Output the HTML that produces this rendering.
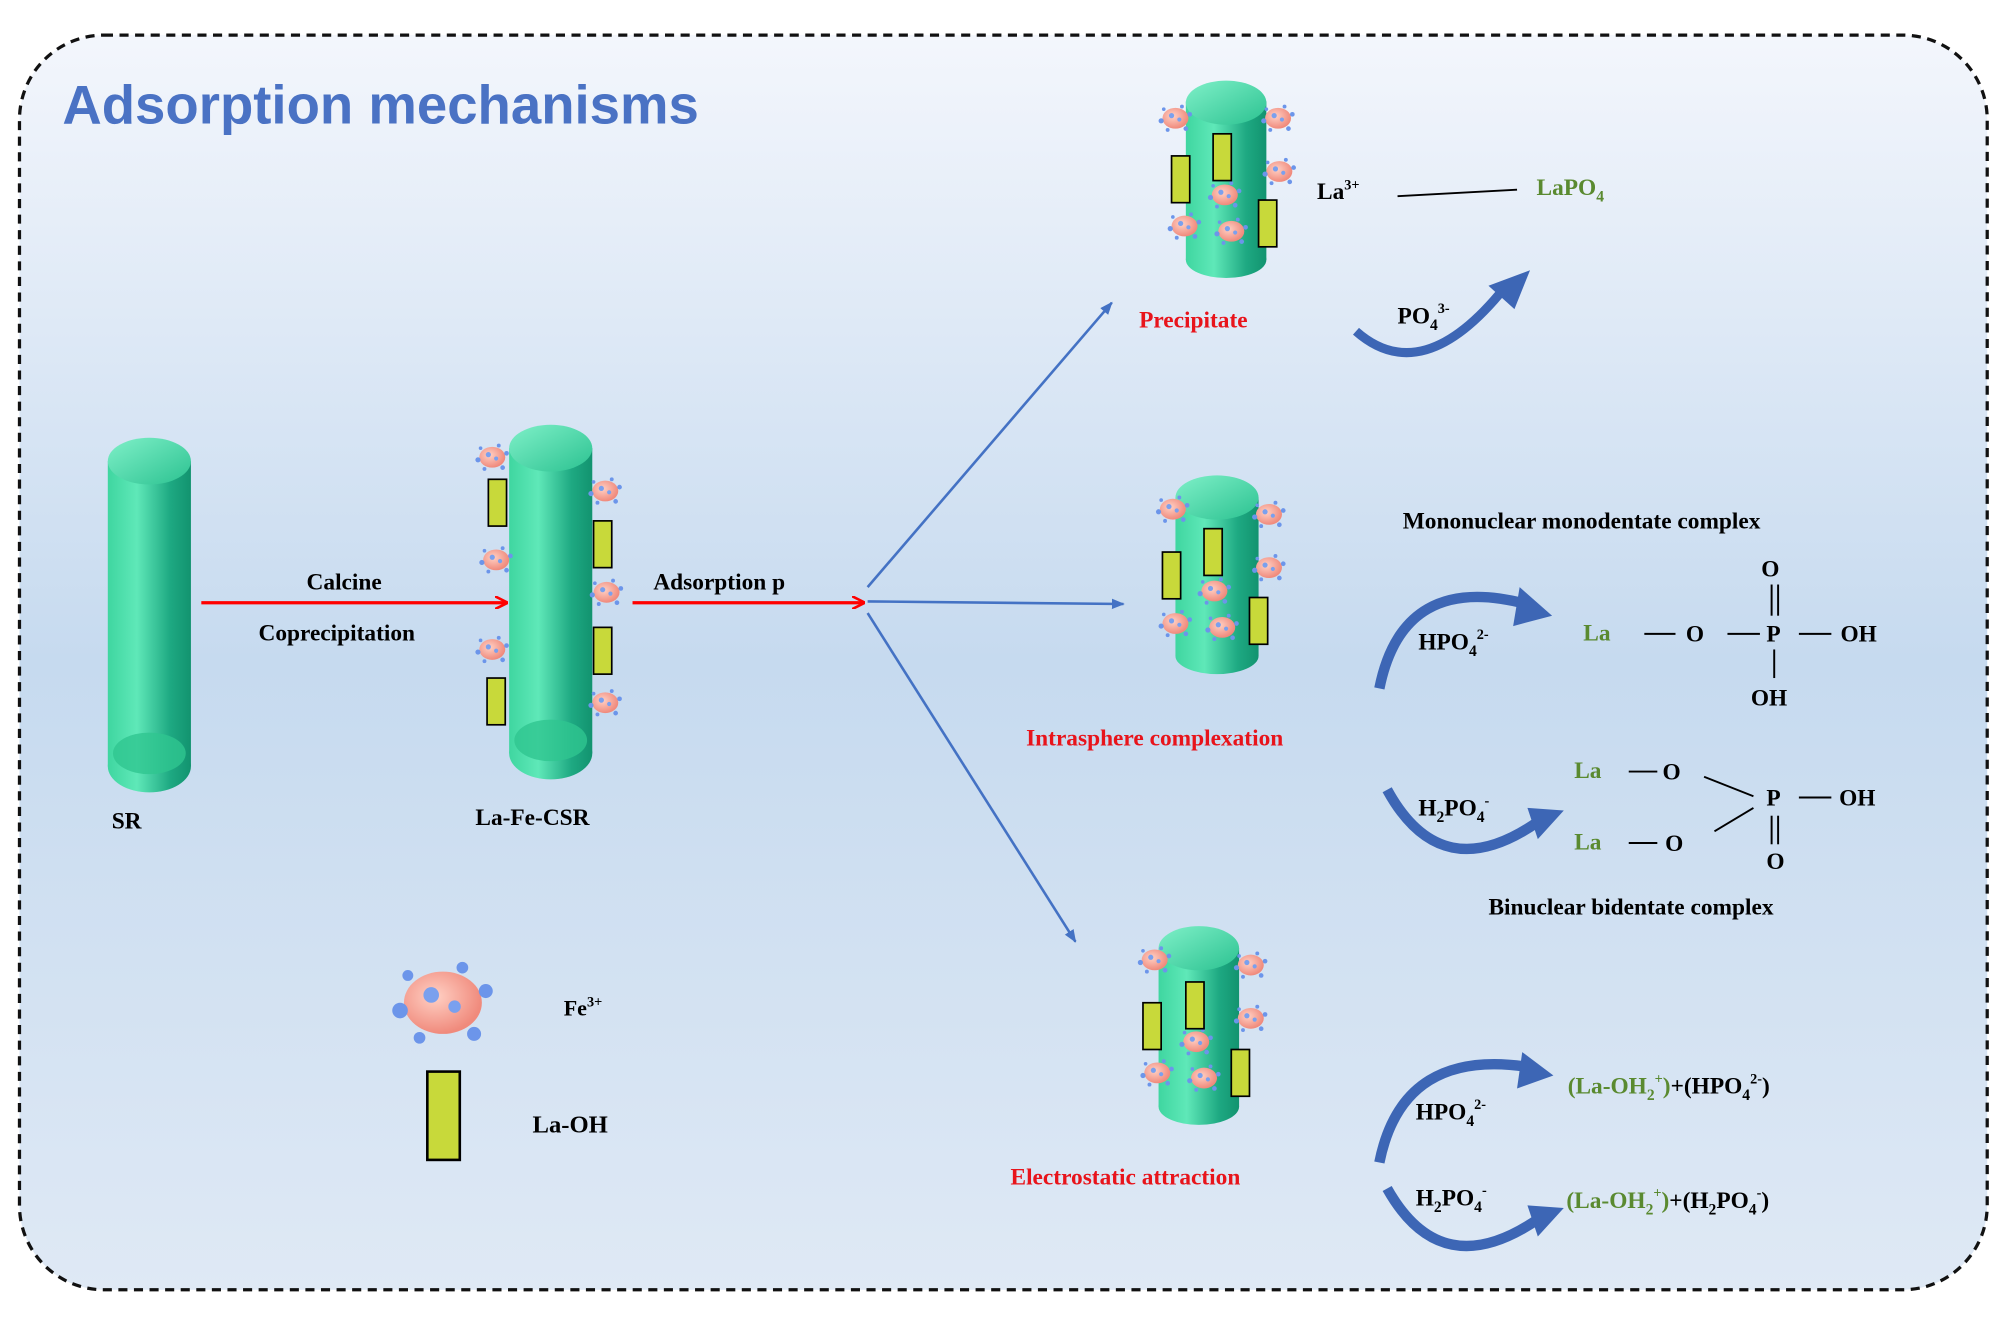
<!DOCTYPE html>
<html><head><meta charset="utf-8"><style>
html,body{margin:0;padding:0;background:#fff;}
svg{display:block;}
text{font-family:"Liberation Serif",serif;font-weight:bold;}
</style></head><body>
<svg width="2008" height="1321" viewBox="0 0 1546 1017" xmlns="http://www.w3.org/2000/svg">
<defs>
<linearGradient id="bg" x1="0" y1="0" x2="0" y2="1">
<stop offset="0" stop-color="#f3f6fc"/><stop offset="0.5" stop-color="#c6daef"/><stop offset="1" stop-color="#dfe9f5"/>
</linearGradient>
<linearGradient id="cyl" x1="0" y1="0" x2="1" y2="0">
<stop offset="0" stop-color="#3fd6a0"/><stop offset="0.35" stop-color="#5fe8b8"/><stop offset="0.75" stop-color="#1ea982"/><stop offset="1" stop-color="#12936f"/>
</linearGradient>
<linearGradient id="cyltop" x1="0" y1="0" x2="1" y2="1">
<stop offset="0" stop-color="#7ff0c8"/><stop offset="1" stop-color="#2cc291"/>
</linearGradient>
<radialGradient id="pk" cx="0.4" cy="0.4" r="0.6">
<stop offset="0" stop-color="#ffd0c4"/><stop offset="1" stop-color="#f08a7c"/>
</radialGradient>
<g id="p">
<ellipse cx="0" cy="0" rx="10" ry="8" fill="url(#pk)"/>
<circle cx="-3" cy="-2" r="2" fill="#7aa0ee"/><circle cx="3" cy="1" r="1.6" fill="#7aa0ee"/>
<circle cx="-11" cy="2" r="2" fill="#6c95ea"/><circle cx="11" cy="-3" r="1.8" fill="#6c95ea"/>
<circle cx="5" cy="-9" r="1.5" fill="#6c95ea"/><circle cx="-6" cy="9" r="1.5" fill="#6c95ea"/>
<circle cx="8" cy="8" r="1.8" fill="#6c95ea"/><circle cx="-9" cy="-7" r="1.4" fill="#6c95ea"/>
</g>
<g id="r"><rect x="0" y="0" width="14" height="36" fill="#c8d93a" stroke="#000" stroke-width="1.3"/></g>
<marker id="ar" markerWidth="10" markerHeight="10" refX="9" refY="5" orient="auto" markerUnits="userSpaceOnUse"><path d="M0,0 L10,5 L0,10" fill="none" stroke="#f00" stroke-width="2"/></marker>
<marker id="ab" markerWidth="10" markerHeight="10" refX="9" refY="5" orient="auto" markerUnits="userSpaceOnUse"><path d="M0,1 L10,5 L0,9 Z" fill="#4472c4"/></marker>
</defs>
<rect x="15" y="27" width="1515" height="966" rx="65" fill="url(#bg)" stroke="#111" stroke-width="2.5" stroke-dasharray="7,5"/>
<text x="48" y="95" font-family="Liberation Sans,sans-serif" font-size="42" fill="#4a72c4" style="font-family:'Liberation Sans',sans-serif">Adsorption mechanisms</text>

<!-- SR cylinder -->
<g><rect x="83" y="355" width="64" height="235" fill="url(#cyl)"/><ellipse cx="115" cy="590" rx="32" ry="20" fill="url(#cyl)"/><ellipse cx="115" cy="580" rx="28" ry="16" fill="#2fc690" opacity="0.8"/><ellipse cx="115" cy="355" rx="32" ry="18" fill="url(#cyltop)"/></g>
<!-- La-Fe-CSR -->
<g><rect x="392" y="345" width="64" height="235" fill="url(#cyl)"/><ellipse cx="424" cy="580" rx="32" ry="20" fill="url(#cyl)"/><ellipse cx="424" cy="570" rx="28" ry="16" fill="#2fc690" opacity="0.8"/><ellipse cx="424" cy="345" rx="32" ry="18" fill="url(#cyltop)"/></g>
<use href="#p" x="379" y="352"/><use href="#p" x="466" y="378"/><use href="#p" x="382" y="431"/><use href="#p" x="467" y="456"/><use href="#p" x="379" y="500"/><use href="#p" x="466" y="541"/>
<use href="#r" x="376" y="369"/><use href="#r" x="457" y="401"/><use href="#r" x="457" y="483"/><use href="#r" x="375" y="522"/>

<!-- precipitate cylinder -->
<g><rect x="913" y="78" width="62" height="122" fill="url(#cyl)"/><ellipse cx="944" cy="200" rx="31" ry="14" fill="url(#cyl)"/><ellipse cx="944" cy="79" rx="31" ry="17" fill="url(#cyltop)"/></g>
<use href="#p" x="905" y="91"/><use href="#p" x="984" y="91"/><use href="#p" x="985" y="132"/><use href="#p" x="943" y="150"/><use href="#p" x="912" y="174"/><use href="#p" x="948" y="178"/>
<use href="#r" x="902" y="120" transform="translate(0,0)"/><use href="#r" x="934" y="103"/><use href="#r" x="969" y="154"/>

<!-- intrasphere cylinder -->
<g><rect x="905" y="383" width="64" height="122" fill="url(#cyl)"/><ellipse cx="937" cy="505" rx="32" ry="14" fill="url(#cyl)"/><ellipse cx="937" cy="383" rx="32" ry="17" fill="url(#cyltop)"/></g>
<use href="#p" x="903" y="392"/><use href="#p" x="977" y="396"/><use href="#p" x="977" y="437"/><use href="#p" x="935" y="455"/><use href="#p" x="905" y="480"/><use href="#p" x="941" y="483"/>
<use href="#r" x="895" y="425"/><use href="#r" x="927" y="407"/><use href="#r" x="962" y="460"/>

<!-- electrostatic cylinder -->
<g><rect x="892" y="730" width="62" height="122" fill="url(#cyl)"/><ellipse cx="923" cy="852" rx="31" ry="14" fill="url(#cyl)"/><ellipse cx="923" cy="730" rx="31" ry="17" fill="url(#cyltop)"/></g>
<use href="#p" x="889" y="739"/><use href="#p" x="963" y="743"/><use href="#p" x="963" y="784"/><use href="#p" x="921" y="802"/><use href="#p" x="891" y="826"/><use href="#p" x="927" y="830"/>
<use href="#r" x="880" y="772"/><use href="#r" x="913" y="756"/><use href="#r" x="948" y="808"/>

<!-- legend -->
<g transform="translate(341,772) scale(3)"><use href="#p"/></g>
<rect x="329" y="825" width="25" height="68" fill="#c8d93a" stroke="#000" stroke-width="2"/>
<text x="434" y="782" font-size="17">Fe<tspan dy="-7" font-size="11">3+</tspan></text>
<text x="410" y="872" font-size="19">La-OH</text>

<!-- arrows -->
<line x1="155" y1="464" x2="390" y2="464" stroke="#f00" stroke-width="2.5" marker-end="url(#ar)"/>
<line x1="487" y1="464" x2="665" y2="464" stroke="#f00" stroke-width="2.5" marker-end="url(#ar)"/>
<line x1="668" y1="452" x2="856" y2="233" stroke="#4472c4" stroke-width="2" marker-end="url(#ab)"/>
<line x1="668" y1="463" x2="865" y2="465" stroke="#4472c4" stroke-width="2" marker-end="url(#ab)"/>
<line x1="668" y1="472" x2="828" y2="725" stroke="#4472c4" stroke-width="2" marker-end="url(#ab)"/>

<text x="236" y="454" font-size="18">Calcine</text>
<text x="199" y="493" font-size="18">Coprecipitation</text>
<text x="503" y="454" font-size="18">Adsorption p</text>
<text x="86" y="638" font-size="18">SR</text>
<text x="366" y="635" font-size="18">La-Fe-CSR</text>

<text x="877" y="252" font-size="18" fill="#e8141b">Precipitate</text>
<text x="790" y="574" font-size="18" fill="#e8141b">Intrasphere  complexation</text>
<text x="778" y="912" font-size="18" fill="#e8141b">Electrostatic attraction</text>

<!-- precipitate reaction -->
<text x="1014" y="153" font-size="18">La<tspan dy="-7" font-size="11">3+</tspan></text>
<line x1="1076" y1="151" x2="1168" y2="146" stroke="#000" stroke-width="1.5"/>
<text x="1183" y="150" font-size="18" fill="#5a8a30">LaPO<tspan dy="5" font-size="12">4</tspan></text>
<text x="1076" y="249" font-size="18">PO<tspan dy="5" font-size="12">4</tspan><tspan dy="-13" font-size="11">3-</tspan></text>
<path d="M1044,255 Q1095,300 1158,222" fill="none" stroke="#3d66b5" stroke-width="7"/>
<polygon points="1146,220 1178,208 1166,238" fill="#3d66b5"/>

<!-- mononuclear -->
<text x="1080" y="407" font-size="18">Mononuclear monodentate complex</text>
<path d="M1062,530 Q1080,440 1175,465" fill="none" stroke="#3d66b5" stroke-width="8"/>
<polygon points="1170,452 1195,474 1165,482" fill="#3d66b5"/>
<text x="1092" y="500" font-size="18">HPO<tspan dy="5" font-size="12">4</tspan><tspan dy="-13" font-size="11">2-</tspan></text>
<text x="1219" y="493" font-size="18" fill="#5a8a30">La</text>
<line x1="1266" y1="488" x2="1290" y2="488" stroke="#000" stroke-width="1.5"/>
<text x="1298" y="494" font-size="18">O</text>
<line x1="1330" y1="488" x2="1355" y2="488" stroke="#000" stroke-width="1.5"/>
<text x="1360" y="494" font-size="18">P</text>
<line x1="1385" y1="488" x2="1410" y2="488" stroke="#000" stroke-width="1.5"/>
<text x="1417" y="494" font-size="18">OH</text>
<text x="1356" y="444" font-size="18">O</text>
<line x1="1364" y1="450" x2="1364" y2="474" stroke="#000" stroke-width="1.5"/><line x1="1369" y1="450" x2="1369" y2="474" stroke="#000" stroke-width="1.5"/>
<line x1="1366" y1="500" x2="1366" y2="522" stroke="#000" stroke-width="1.5"/>
<text x="1348" y="543" font-size="18">OH</text>

<!-- binuclear -->
<path d="M1068,608 Q1110,685 1185,632" fill="none" stroke="#3d66b5" stroke-width="8"/>
<polygon points="1176,622 1204,624 1184,646" fill="#3d66b5"/>
<text x="1092" y="628" font-size="18">H<tspan dy="5" font-size="12">2</tspan><tspan dy="-5">PO</tspan><tspan dy="5" font-size="12">4</tspan><tspan dy="-13" font-size="11">-</tspan></text>
<text x="1212" y="599" font-size="18" fill="#5a8a30">La</text>
<line x1="1254" y1="594" x2="1276" y2="594" stroke="#000" stroke-width="1.5"/>
<text x="1280" y="600" font-size="18">O</text>
<text x="1212" y="654" font-size="18" fill="#5a8a30">La</text>
<line x1="1254" y1="649" x2="1276" y2="649" stroke="#000" stroke-width="1.5"/>
<text x="1282" y="655" font-size="18">O</text>
<line x1="1312" y1="598" x2="1350" y2="613" stroke="#000" stroke-width="1.5"/>
<line x1="1320" y1="640" x2="1350" y2="622" stroke="#000" stroke-width="1.5"/>
<text x="1360" y="620" font-size="18">P</text>
<line x1="1385" y1="614" x2="1410" y2="614" stroke="#000" stroke-width="1.5"/>
<text x="1416" y="620" font-size="18">OH</text>
<line x1="1364" y1="628" x2="1364" y2="650" stroke="#000" stroke-width="1.5"/><line x1="1369" y1="628" x2="1369" y2="650" stroke="#000" stroke-width="1.5"/>
<text x="1360" y="669" font-size="18">O</text>
<text x="1146" y="704" font-size="18">Binuclear bidentate complex</text>

<!-- electrostatic -->
<path d="M1062,895 Q1080,805 1180,822" fill="none" stroke="#3d66b5" stroke-width="8"/>
<polygon points="1172,810 1196,828 1168,838" fill="#3d66b5"/>
<text x="1090" y="862" font-size="18">HPO<tspan dy="5" font-size="12">4</tspan><tspan dy="-13" font-size="11">2-</tspan></text>
<text x="1207" y="842" font-size="18"><tspan fill="#5a8a30">(La-OH</tspan><tspan dy="5" font-size="12" fill="#5a8a30">2</tspan><tspan dy="-13" font-size="11" fill="#5a8a30">+</tspan><tspan dy="8" fill="#5a8a30">)</tspan>+(HPO<tspan dy="5" font-size="12">4</tspan><tspan dy="-13" font-size="11">2-</tspan><tspan dy="8">)</tspan></text>
<path d="M1068,915 Q1110,990 1185,938" fill="none" stroke="#3d66b5" stroke-width="8"/>
<polygon points="1176,928 1204,930 1184,952" fill="#3d66b5"/>
<text x="1090" y="928" font-size="18">H<tspan dy="5" font-size="12">2</tspan><tspan dy="-5">PO</tspan><tspan dy="5" font-size="12">4</tspan><tspan dy="-13" font-size="11">-</tspan></text>
<text x="1206" y="930" font-size="18"><tspan fill="#5a8a30">(La-OH</tspan><tspan dy="5" font-size="12" fill="#5a8a30">2</tspan><tspan dy="-13" font-size="11" fill="#5a8a30">+</tspan><tspan dy="8" fill="#5a8a30">)</tspan>+(H<tspan dy="5" font-size="12">2</tspan><tspan dy="-5">PO</tspan><tspan dy="5" font-size="12">4</tspan><tspan dy="-13" font-size="11">-</tspan><tspan dy="8">)</tspan></text>
</svg>
</body></html>
